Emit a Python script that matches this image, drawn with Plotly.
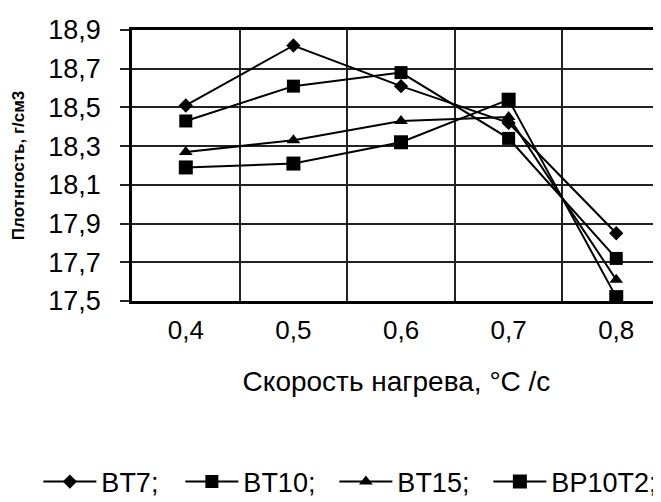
import plotly.graph_objects as go

categories = ["0,4", "0,5", "0,6", "0,7", "0,8"]
series_names = ["BT7;", "BT10;", "BT15;", "BP10T2;"]
bt7 = [18.51, 18.82, 18.61, 18.42, 17.85]
bt10 = [18.43, 18.61, 18.68, 18.34, 17.72]
bt15 = [18.27, 18.33, 18.43, 18.45, 17.61]
bp10t2 = [18.19, 18.21, 18.32, 18.54, 17.52]
y_ticks = [17.5, 17.7, 17.9, 18.1, 18.3, 18.5, 18.7, 18.9]

series = [bt7, bt10, bt15, bp10t2]
symbols = ["diamond", "square", "triangle-up", "square"]
sizes = [11, 13, 12, 14]
legend_widths = [74, 86, 86, 108]

fig = go.Figure()
for name, vals, sym, sz, lw in zip(series_names, series, symbols, sizes, legend_widths):
    fig.add_trace(go.Scatter(
        x=categories, y=vals, name=name, mode="lines+markers",
        line=dict(color="black", width=2),
        marker=dict(symbol=sym, size=sz, color="black"),
        legendwidth=lw,
    ))

# page body has an 8px default margin, so the figure is 8px smaller
fig.update_layout(
    width=653, height=494,
    margin=dict(l=124, r=0, t=22, b=201, autoexpand=False),
    paper_bgcolor="white", plot_bgcolor="white",
    separators=", ",
    font=dict(family="Liberation Sans, Arial, sans-serif", color="black", size=27),
    showlegend=True,
    legend=dict(orientation="h", xref="paper", yref="paper",
                x=-0.177, xanchor="left", y=-0.668, yanchor="middle",
                font=dict(size=27), itemwidth=53,
                entrywidthmode="pixels",
                traceorder="normal"),
)
fig.update_xaxes(
    type="category", range=[-0.5, 4.416], tickson="boundaries",
    showgrid=True, gridcolor="#222", gridwidth=1.5,
    showline=True, linecolor="black", linewidth=2.5, mirror=True,
    ticks="", tickfont=dict(size=26), ticklabelstandoff=4,
    title=dict(text="Скорость нагрева, °C /c", font=dict(size=28), standoff=28),
    automargin=False,
)
fig.update_yaxes(
    range=[17.5, 18.9], tickvals=y_ticks, tickformat=".1f",
    showgrid=True, gridcolor="#222", gridwidth=1.5,
    showline=True, linecolor="black", linewidth=2.5, mirror=False,
    ticks="outside", ticklen=9, tickcolor="#222", tickwidth=1.5,
    ticklabelstandoff=14, tickfont=dict(size=27),
    title=dict(text="<b>Плотнгость, г/см3</b>", font=dict(size=17), standoff=20),
    zeroline=False, automargin=False,
)

fig.write_html("out.html")
